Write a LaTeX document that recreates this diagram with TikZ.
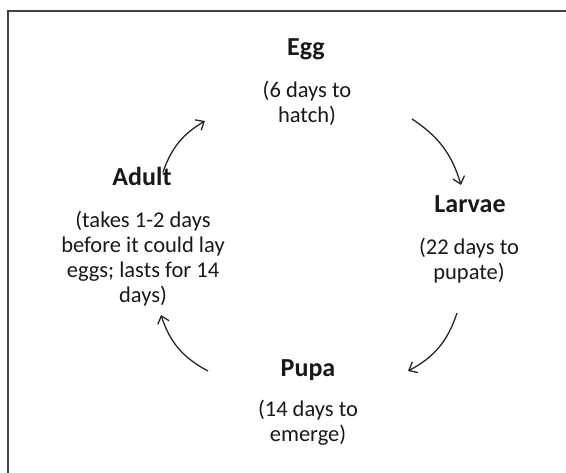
\documentclass[tikz,border=0pt]{standalone}
\usepackage{fontspec}
\setmainfont{Carlito}
\usetikzlibrary{arrows.meta}
\begin{document}
\begin{tikzpicture}[x=1pt,y=1pt,
  title/.style={anchor=base,inner sep=0pt,font=\bfseries\fontsize{26}{30}\selectfont,text=black!90},
  desc/.style={anchor=base,inner sep=0pt,font=\fontsize{22.5}{25}\selectfont,text=black!90},
  cyc/.style={line width=1.3pt,draw=black!85,-{Straight Barb[length=7pt,width=12pt,line width=1.3pt]}},
  frame/.style={line width=2pt,draw=black!75}]
\useasboundingbox (0,0) rectangle (566,473);
\draw[frame] (8,0) -- (8,461.5) -- (566,461.5);
% titles
\node[title] (eggT) at (306,417) {Egg};
\node[title] (larT) at (470,260) {Larvae};
\node[title] (pupT) at (308,96.3) {Pupa};
\node[title] (aduT) at (142,287) {Adult};
% descriptions
\node[desc] (eggD) at (307,375) {\begin{tabular}[t]{@{}c@{}}(6 days to\\hatch)\end{tabular}};
\node[desc] (larD) at (469,218) {\begin{tabular}[t]{@{}c@{}}(22 days to\\pupate)\end{tabular}};
\node[desc] (pupD) at (308,56.3) {\begin{tabular}[t]{@{}c@{}}(14 days to\\emerge)\end{tabular}};
\node[desc] (aduD) at (143,245) {\begin{tabular}[t]{@{}c@{}}(takes 1-2 days\\before it could lay\\eggs; lasts for 14\\days)\end{tabular}};
% arrow ends
\coordinate (a1) at (163,301);
\coordinate (a2) at (205,352);
\coordinate (b1) at (412,354);
\coordinate (b2) at (461,288);
\coordinate (c1) at (457,160);
\coordinate (c2) at (408,102);
\coordinate (d1) at (208,102);
\coordinate (d2) at (161,158);
\draw[cyc] (a1) to[bend left=20] (a2);
\draw[cyc] (b1) to[bend left=20] (b2);
\draw[cyc] (c1) to[bend left=22] (c2);
\draw[cyc] (d1) to[bend left=22] (d2);
\end{tikzpicture}
\end{document}
